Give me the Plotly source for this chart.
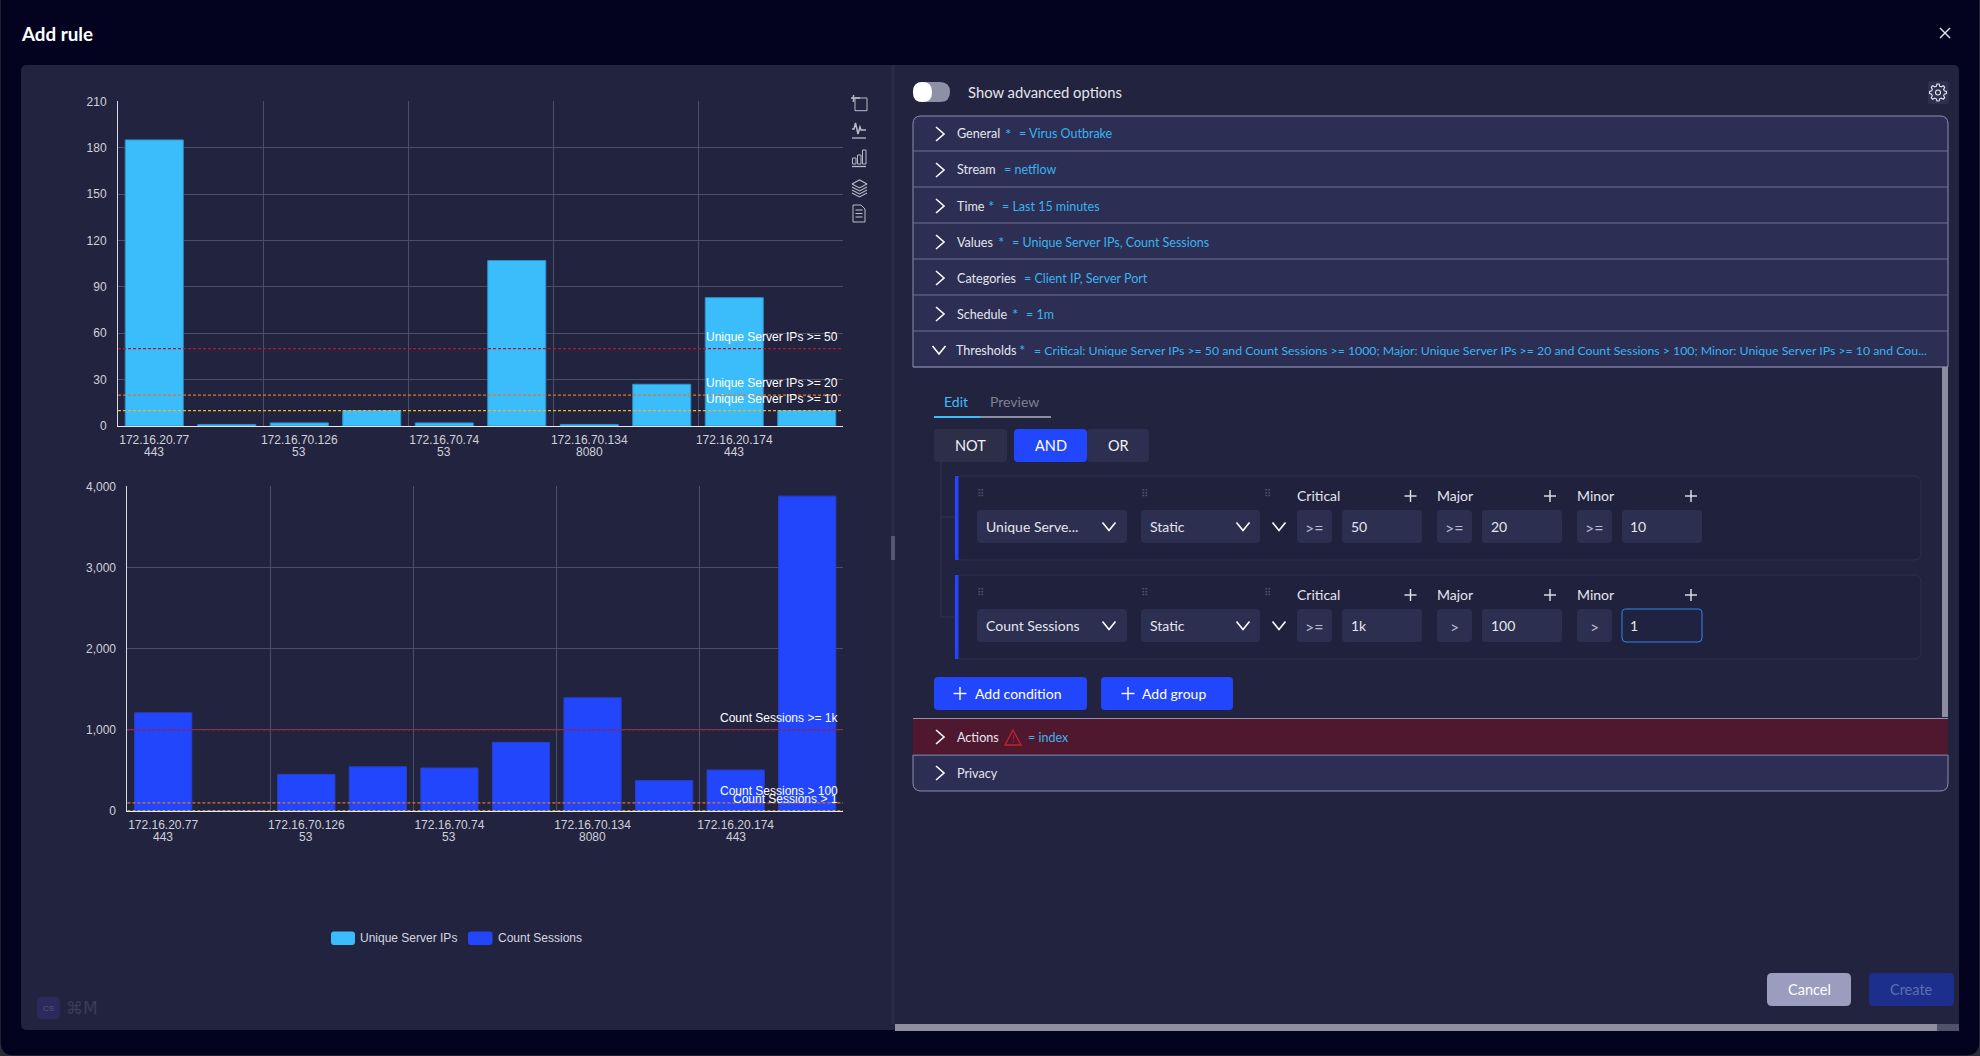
import math
import plotly.graph_objects as go

W, H = 1980, 1056

# ---- chart data
ticks_ip = ["172.16.20.77", "", "172.16.70.126", "", "172.16.70.74", "", "172.16.70.134", "", "172.16.20.174", ""]
ticks_port = ["443", "", "53", "", "53", "", "8080", "", "443", ""]
unique_ips = [185, 1, 2, 10, 2, 107, 1, 27, 83, 10]
count_sessions = [1210, 1, 450, 545, 530, 845, 1395, 375, 505, 3880]
ips_thresholds = [50, 20, 10]
ips_labels = ["Unique Server IPs >= 50", "Unique Server IPs >= 20", "Unique Server IPs >= 10"]
sessions_thresholds = [1000, 100, 1]
sessions_labels = ["Count Sessions >= 1k", "Count Sessions > 100", "Count Sessions > 1"]
threshold_colors = ["#b4182c", "#e2761f", "#e8b825"]

# ---- form text
rows = [
    ("General", True, "= Virus Outbrake", 134),
    ("Stream", False, "= netflow", 170),
    ("Time", True, "= Last 15 minutes", 206),
    ("Values", True, "= Unique Server IPs, Count Sessions", 242),
    ("Categories", False, "= Client IP, Server Port", 278),
    ("Schedule", True, "= 1m", 314),
]
thresholds_text = ("= Critical: Unique Server IPs >= 50 and Count Sessions >= 1000; Major: Unique Server IPs >= 20 "
                   "and Count Sessions > 100; Minor: Unique Server IPs >= 10 and Cou...")

UI = "Lato"
CHART = "Liberation Sans"
PANEL = "#22243f"
ROW = "#2c2e54"
BLUE = "#2146fb"
CYAN = "#3cbdfb"
VALUE = "#3ab4ee"
FIELD = "#2d2f50"
shapes = []
notes = []


def fx(x):
    return round(x / W, 5)


def fy(y):
    return round(1 - y / H, 5)


def path(points, close=False):
    d = "M" + " L".join(f"{fx(x)},{fy(y)}" for x, y in points)
    return d + (" Z" if close else "")


def draw(d, fill=None, line=None, width=1):
    s = dict(type="path", path=d, xref="paper", yref="paper", layer="below", line=dict(width=0))
    if fill:
        s["fillcolor"] = fill
    if line:
        s["line"] = dict(color=line, width=width)
    shapes.append(s)


def box(x0, y0, x1, y1, fill=None, line=None, r=0, width=1, rt=None, rb=None):
    rt = r if rt is None else rt
    rb = r if rb is None else rb
    d = (f"M{fx(x0 + rt)},{fy(y0)} L{fx(x1 - rt)},{fy(y0)} Q{fx(x1)},{fy(y0)} {fx(x1)},{fy(y0 + rt)} "
         f"L{fx(x1)},{fy(y1 - rb)} Q{fx(x1)},{fy(y1)} {fx(x1 - rb)},{fy(y1)} "
         f"L{fx(x0 + rb)},{fy(y1)} Q{fx(x0)},{fy(y1)} {fx(x0)},{fy(y1 - rb)} "
         f"L{fx(x0)},{fy(y0 + rt)} Q{fx(x0)},{fy(y0)} {fx(x0 + rt)},{fy(y0)} Z")
    draw(d, fill, line, width)


def stroke(points, color="#ffffff", width=1.5):
    draw(path(points), None, color, width)


def text(x, y, s, size=12.6, color="#e4e5ee", anchor="left", family=UI, bold=False):
    notes.append(dict(x=fx(x), y=fy(y), xref="paper", yref="paper", text=f"<b>{s}</b>" if bold else s,
                      showarrow=False, xanchor=anchor, yanchor="middle", borderpad=0, borderwidth=0,
                      font=dict(family=family, size=size, color=color)))


def chevron_right(x, y):
    stroke([(x - 4, y - 7), (x + 4, y), (x - 4, y + 7)], "#ffffff", 1.6)


def chevron_down(x, y, w=6.5, h=4):
    stroke([(x - w, y - h), (x, y + h), (x + w, y - h)], "#ffffff", 1.6)


def plus(x, y, r=6, color="#e4e5ee"):
    stroke([(x - r, y), (x + r, y)], color, 1.4)
    stroke([(x, y - r), (x, y + r)], color, 1.4)


# page
box(0, -20, W, H, "#03031f", "#2a2c3a", rb=14, width=1.5)
box(21, 65, 1959, 1030, PANEL, rt=6, rb=6)
box(891, 65, 895, 1024, "#2a2a45")
box(891, 536, 895, 560, "#55566f")
box(895, 1024, 1959, 1031, "#50526b")
box(895, 1024, 1937, 1031, "#908f9f")
text(21, 33, "Add rule", 18.8, "#ffffff", bold=True)
stroke([(1940, 28), (1950, 38)], "#dfe0ea", 1.4)
stroke([(1950, 28), (1940, 38)], "#dfe0ea", 1.4)

# toolbox icons
ICON = "#b9bac8"
box(855, 98, 867, 110.7, None, ICON)
stroke([(851, 98), (860, 98)], ICON)
stroke([(853.5, 95), (853.5, 102)], ICON)
stroke([(852, 129), (854, 129), (855.5, 123), (858, 134), (860, 127), (861, 130), (866, 130)], ICON)
stroke([(852, 138), (866, 138)], ICON, 1.3)
for bx, by in [(852.5, 158), (857.5, 155), (862.5, 150)]:
    box(bx, by, bx + 3.5, 164, None, ICON)
stroke([(852, 166.5), (866, 166.5)], ICON, 1.3)
for dy in [0, 3, 6, 9]:
    stroke([(852, 184 + dy), (859.5, 188 + dy), (867, 184 + dy)], ICON, 1.1)
stroke([(852, 184), (859.5, 180), (867, 184)], ICON, 1.1)
draw(path([(853, 205), (861, 205), (865, 209), (865, 222), (853, 222)], True), None, ICON)
for ly in [210, 213.5, 217]:
    stroke([(855.5, ly), (862.5, ly)], ICON, 1.1)

# watermark
box(37, 997, 60, 1019, "#2c2a5c", r=5)
text(48.5, 1008, "CS", 8, "#54548a", "center", CHART)
text(66, 1008, "⌘M", 17, "#3a3c58", family="DejaVu Sans")

# legend
box(331, 931.5, 355, 945, CYAN, r=3)
text(360.5, 938, "Unique Server IPs", 12, "#d5d6e0", family=CHART)
box(468, 931.5, 492.5, 945, BLUE, r=3)
text(498, 938, "Count Sessions", 12, "#d5d6e0", family=CHART)

# header of the form
box(913, 82, 950, 102, "#8e90a5", r=10)
box(913, 82, 932, 102, "#ffffff", r=9.5)
text(968, 92, "Show advanced options", 14.8)
box(1928, 81, 1949, 104, "#2e3050", r=3)
gear = []
for i in range(48):
    a = 2 * math.pi * i / 48
    tooth = 8.5 if (i % 6) in (0, 1, 5) else 6.5
    gear.append((1938 + tooth * math.cos(a), 92.5 + tooth * math.sin(a)))
draw(path(gear, True), None, "#e4e5ee", 1.1)
box(1935.5, 90, 1940.5, 95, None, "#e4e5ee", r=2.5, width=1.1)

# accordion
box(913, 116, 1948, 367, ROW, "#8c8eae", rt=8, rb=0)
box(913, 755, 1948, 791, ROW, "#8c8eae", rt=0, rb=8)
box(913, 719, 1948, 755, "#50182f")
for sep in [151, 187, 223, 259, 295, 331, 367, 755]:
    stroke([(913, sep), (1948, sep)], "#6f7196", 1.2)
stroke([(913, 718.5), (1948, 718.5)], "#8c8eae", 1.2)

star_x = {"General": 1005, "Time": 988, "Values": 998, "Schedule": 1012}
value_x = {"General": 1019, "Stream": 1004, "Time": 1002.5, "Values": 1011.5, "Categories": 1024, "Schedule": 1026}
for name, req, val, y in rows:
    chevron_right(940, y)
    text(957, y, name)
    if req:
        text(star_x[name], y, "*", 15, VALUE)
    text(value_x[name], y, val, 12.5, VALUE)
chevron_down(939, 350)
text(956, 350, "Thresholds")
text(1019, 350, "*", 15, VALUE)
text(1034, 350, thresholds_text, 12.3, VALUE)
chevron_right(940, 737)
text(957, 737, "Actions")
draw(path([(1013, 730), (1021, 745), (1005, 745)], True), None, "#c42032", 1.3)
text(1013, 739, "!", 9, "#c42032", "center")
text(1028, 738, "= index", 12.5, VALUE)
chevron_right(940, 773)
text(957, 773, "Privacy")

# edit / preview tabs
text(943.5, 402, "Edit", 14, CYAN)
text(989.5, 402, "Preview", 14, "#7f8095")
box(934, 416, 980, 418, CYAN)
box(980, 416, 1051, 418, "#8d8da0")

# NOT / AND / OR
box(934, 429, 1007, 462, "#2d2f49", r=4)
box(1087, 429, 1149, 462, FIELD, r=4)
box(1014, 429, 1087, 462, BLUE, r=4)
text(970, 445.5, "NOT", 14.5, "#f0f0f6", "center")
text(1050.5, 445.5, "AND", 14.5, "#ffffff", "center")
text(1118, 445.5, "OR", 14.5, "#f0f0f6", "center")

# condition cards
stroke([(941, 462), (941, 617), (955, 617)], "#32345a", 1)
stroke([(941, 517), (955, 517)], "#32345a", 1)
cards = [
    (476, 495, 510, "Unique Serve...", [">=", ">=", ">="], ["50", "20", "10"]),
    (575, 594, 609, "Count Sessions", [">=", ">", ">"], ["1k", "100", "1"]),
]
for top, head_y, in_y, metric, ops, vals in cards:
    box(955, top, 1921, top + 84, "#20223d", "#2c2e4e", r=7)
    box(955, top, 958.5, top + 84, BLUE)
    for hx in [981, 1145, 1267]:
        text(hx, head_y - 2, "⠿", 10, "#55566f", "center", "DejaVu Sans")
    mid = in_y + 16.5
    box(977, in_y, 1127, in_y + 33, FIELD, r=4)
    text(986, mid, metric, 14)
    chevron_down(1109, mid)
    box(1141, in_y, 1260, in_y + 33, FIELD, r=4)
    text(1150, mid, "Static", 14)
    chevron_down(1243, mid)
    chevron_down(1279, mid)
    cols = [(1297, 1342, 1351, "Critical", 1410.5), (1437, 1482, 1491, "Major", 1550), (1577, 1622, 1630, "Minor", 1691)]
    for (op_x, in_x, val_x, lab, plus_x), op, val in zip(cols, ops, vals):
        text(op_x, head_y, lab, 14)
        plus(plus_x, head_y + 1)
        box(op_x, in_y, op_x + 35, in_y + 33, FIELD, r=4)
        text(op_x + 17.5, mid + 1, op, 16, "#b8b9cc", "center")
        if lab == "Minor" and val == "1":
            box(in_x, in_y, in_x + 80, in_y + 33, "#20233f", "#2e86f0", r=4)
        else:
            box(in_x, in_y, in_x + 80, in_y + 33, FIELD, r=4)
        text(val_x, mid, val, 14)

# add buttons
box(934, 677, 1087, 710, BLUE, r=4)
plus(960, 693.5, 6.5, "#ffffff")
text(975, 693.5, "Add condition", 14, "#ffffff")
box(1101, 677, 1233, 710, BLUE, r=4)
plus(1128, 693.5, 6.5, "#ffffff")
text(1142, 693.5, "Add group", 14, "#ffffff")
box(1942, 367, 1948, 717, "#8d8da0")

# footer buttons
box(1767, 973, 1851, 1006, "#9a9dbd", r=5)
text(1809, 989.5, "Cancel", 14.5, "#ffffff", "center")
box(1869, 973, 1954, 1006, "#1c2f8c", r=5)
text(1911.5, 989.5, "Create", 14.5, "#5f6fae", "center")

# ---- charts
positions = list(range(len(ticks_ip)))
boundaries = [-0.5, 1.5, 3.5, 5.5, 7.5, 9.5]
GRID = "#4d4f68"

fig = go.Figure()
fig.add_trace(go.Bar(x=positions, y=unique_ips, name="Unique Server IPs", xaxis="x", yaxis="y", width=0.8,
                     marker=dict(color=CYAN, line=dict(color="#2d93cc", width=1))))
fig.add_trace(go.Bar(x=positions, y=count_sessions, name="Count Sessions", xaxis="x2", yaxis="y2", width=0.8,
                     marker=dict(color=BLUE, line=dict(color="#2a3fc8", width=1))))


def x_axis(left, anchor):
    return dict(domain=[left / W, 843 / W], range=[-0.5, 9.5], anchor=anchor, tickmode="array",
                tickvals=positions[::2], ticktext=ticks_ip[::2], showgrid=False, zeroline=False,
                showline=True, linecolor="#e8e8f0", linewidth=1, ticks="", ticklabelstandoff=3,
                tickfont=dict(family=CHART, size=12, color="#cfd0da"),
                minor=dict(tickmode="array", tickvals=boundaries, showgrid=True, gridcolor=GRID, gridwidth=1, ticks=""))


def y_axis(top, bottom, rng, step, anchor):
    return dict(domain=[1 - bottom / H, 1 - top / H], range=rng, dtick=step, anchor=anchor, tickformat=",",
                gridcolor=GRID, gridwidth=1, zeroline=False, showline=True, linecolor="#d8d9e2", linewidth=1,
                ticks="", ticklabelstandoff=8, tickfont=dict(family=CHART, size=12, color="#cfd0da"))


for xa, ya, dom, thresholds, labels in [
    ("x", "y", "x domain", ips_thresholds, ips_labels),
    ("x2", "y2", "x2 domain", sessions_thresholds, sessions_labels),
]:
    for val, lab, col in zip(thresholds, labels, threshold_colors):
        shapes.append(dict(type="line", xref=dom, x0=0, x1=1, yref=ya, y0=val, y1=val, layer="above",
                           line=dict(color=col, width=1.2, dash="3px,2px")))
        notes.append(dict(x=1, xref=dom, y=val, yref=ya, text=lab, showarrow=False, xanchor="right", xshift=-5,
                          yanchor="middle", yshift=12, borderpad=0, borderwidth=0,
                          font=dict(family=CHART, size=12, color="#ffffff")))
    for pos, port in zip(positions, ticks_port):
        if port:
            notes.append(dict(x=pos, xref=xa, y=0, yref=ya, text=port, showarrow=False, xanchor="center",
                              yanchor="middle", yshift=-26, borderpad=0, borderwidth=0,
                              font=dict(family=CHART, size=12, color="#cfd0da")))

fig.update_layout(
    width=W, height=H, margin=dict(l=0, r=0, t=0, b=0, autoexpand=False), autosize=False,
    paper_bgcolor="#2a2c3a", plot_bgcolor="rgba(0,0,0,0)", showlegend=False,
    xaxis=x_axis(118, "y"), yaxis=y_axis(101.3, 426, [0, 210], 30, "x"),
    xaxis2=x_axis(127.4, "y2"), yaxis2=y_axis(486.4, 811, [0, 4000], 1000, "x2"),
    annotations=notes, shapes=shapes,
)

# page has a default body margin, the figure needs to sit flush in the window
fig.write_html("out.html", config={"displayModeBar": False},
               post_script="document.body.style.margin='0';document.body.style.overflow='hidden';")
